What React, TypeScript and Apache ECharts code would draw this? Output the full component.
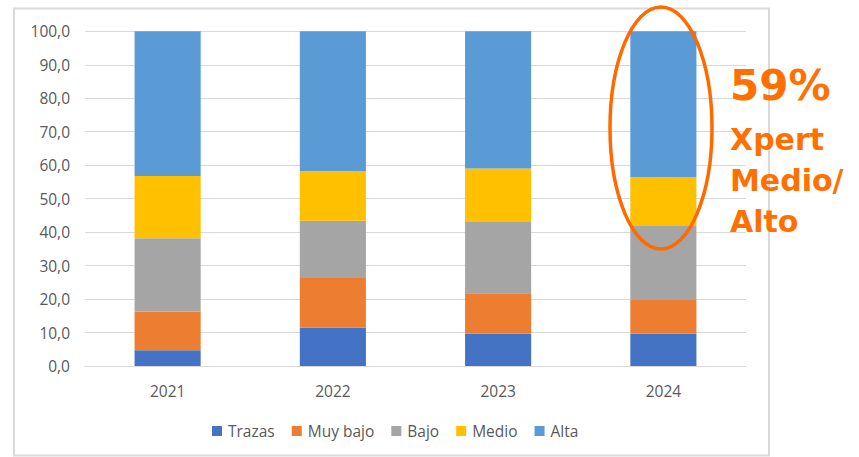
import React, { useEffect, useRef } from "react";
import * as echarts from "echarts";

const years = ["2021", "2022", "2023", "2024"];
const seriesNames = ["Trazas", "Muy bajo", "Bajo", "Medio", "Alta"];
const trazas = [4.7, 11.4, 9.6, 9.6];
const muyBajo = [11.6, 14.9, 12.1, 10.1];
const bajo = [21.9, 17.1, 21.3, 22.1];
const medio = [18.6, 14.8, 16.0, 14.7];
const alta = [43.2, 41.8, 41.0, 43.5];
const colors = ["#4472C4", "#ED7D31", "#A5A5A5", "#FFC000", "#5B9BD5"];
const annotationLines = ["59%", "Xpert", "Medio/", "Alto"];

const FONT = "'Open Sans', 'Liberation Sans', sans-serif";
const ANNOT_FONT = "'DejaVu Sans', 'Open Sans', sans-serif";

export default function App() {
  const ref = useRef<HTMLDivElement>(null);
  useEffect(() => {
    if (!ref.current) return;
    const chart = echarts.init(ref.current, null, { renderer: "svg" });
    const data = [trazas, muyBajo, bajo, medio, alta];
    chart.setOption({
      animation: false,
      backgroundColor: "#ffffff",
      grid: { left: 85, right: 113, top: 31.3, bottom: 91 },
      legend: {
        left: 207,
        top: 418,
        itemWidth: 10,
        itemHeight: 10,
        itemGap: 17,
        icon: "rect",
        textStyle: { color: "#595959", fontSize: 15.5, fontFamily: FONT, padding: [0, 0, 0, 1] },
        data: seriesNames,
      },
      xAxis: {
        type: "category",
        data: years,
        axisLine: { show: true, lineStyle: { color: "#D9D9D9", width: 1 } },
        axisTick: { show: false },
        axisLabel: { color: "#595959", fontSize: 15.5, fontFamily: FONT, margin: 17 },
      },
      yAxis: {
        type: "value",
        min: 0,
        max: 100,
        interval: 10,
        axisLine: { show: false },
        axisTick: { show: false },
        splitLine: { lineStyle: { color: "#D9D9D9", width: 1 } },
        axisLabel: {
          color: "#595959",
          fontSize: 15.5,
          fontFamily: FONT,
          margin: 15,
          formatter: (v: number) => v.toFixed(1).replace(".", ","),
        },
      },
      series: seriesNames.map((name, i) => ({
        name,
        type: "bar",
        stack: "total",
        barWidth: "40%",
        itemStyle: { color: colors[i] },
        data: data[i],
      })),
      graphic: [
        {
          type: "rect",
          shape: { x: 14, y: 8.5, width: 755, height: 447 },
          style: { fill: "none", stroke: "#D9D9D9", lineWidth: 2 },
          z: -1,
        },
        {
          type: "ellipse",
          shape: { cx: 661, cy: 128, rx: 51, ry: 121 },
          style: { fill: "none", stroke: "#FF6A00", lineWidth: 3.5 },
          z: 100,
        },
        {
          type: "text",
          x: 730,
          y: 106,
          style: {
            text: annotationLines[0],
            fill: "#FF7000",
            font: `bold 42px ${ANNOT_FONT}`,
            textVerticalAlign: "bottom",
          },
          z: 100,
        },
        ...annotationLines.slice(1).map((t, i) => ({
          type: "text",
          x: 730,
          y: 154 + i * 41,
          style: {
            text: t,
            fill: "#FF7000",
            font: `bold 30px ${ANNOT_FONT}`,
            textVerticalAlign: "bottom",
          },
          z: 100,
        })),
      ],
    });
    return () => chart.dispose();
  }, []);
  return <div ref={ref} style={{ width: 859, height: 457, position: "absolute", left: 0, top: 0 }} />;
}
